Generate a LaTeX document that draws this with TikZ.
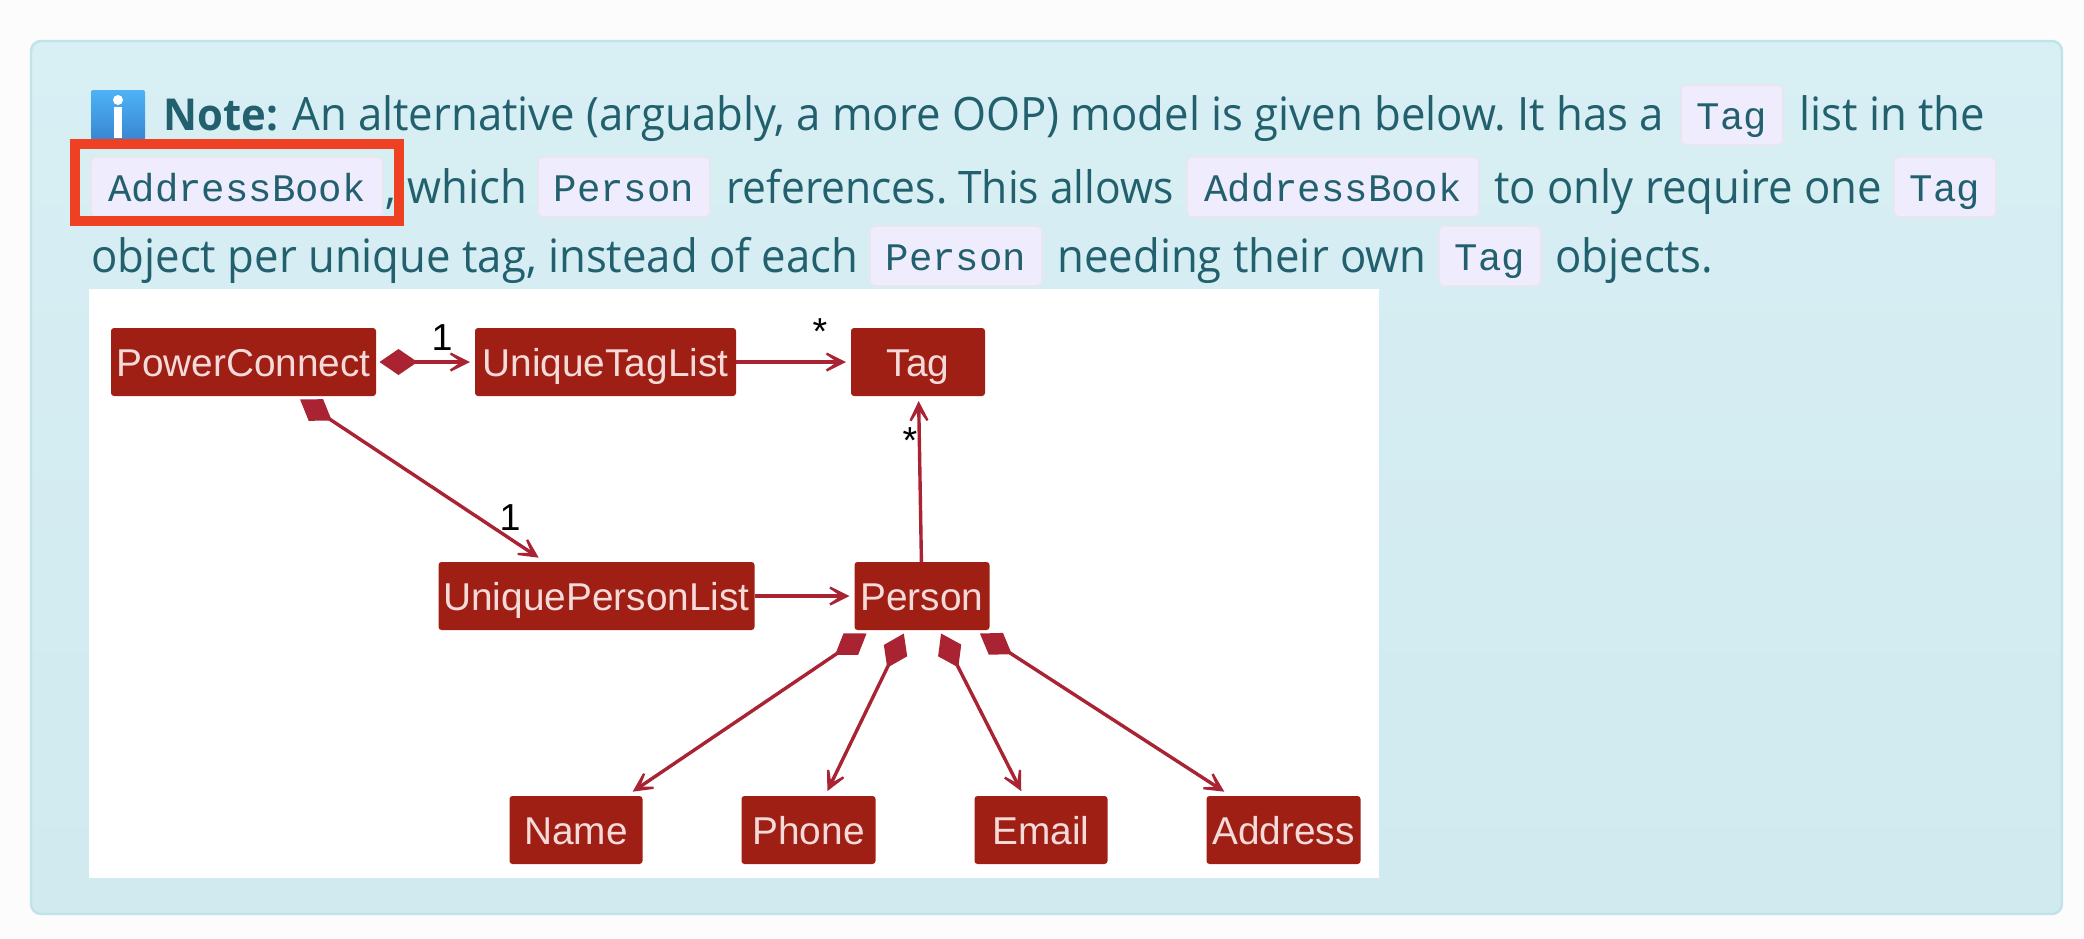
\documentclass[tikz,border=0pt]{standalone}
\usepackage{fontspec}
\setmainfont{Open Sans}[FakeStretch=0.95]
\setsansfont{Liberation Sans}
\setmonofont{Liberation Mono}
\usetikzlibrary{arrows.meta,positioning}
\frenchspacing
\definecolor{panelTop}{HTML}{D8EFF4}
\definecolor{panelBottom}{HTML}{D0EAEF}
\definecolor{panelEdge}{HTML}{BFE3E8}
\definecolor{noteText}{HTML}{22606E}
\definecolor{iconTop}{HTML}{4DB3F5}
\definecolor{iconBottom}{HTML}{3A85D3}
\definecolor{chipFill}{HTML}{EFEDFD}
\definecolor{chipEdge}{HTML}{E9E6EF}
\definecolor{markRed}{HTML}{EE4023}
\definecolor{classFill}{HTML}{9F1F14}
\definecolor{classText}{HTML}{F5DADA}
\definecolor{assocLine}{HTML}{A92333}
\tikzset{
	notetext/.style={
		anchor=base west,
		inner sep=0pt,
		text=noteText,
		font=\fontsize{23}{27}\selectfont},
	chip/.style={
		rectangle,
		rounded corners=3pt,
		fill=chipFill,
		draw=chipEdge, line width=.8pt,
		inner sep=0pt,
		minimum height=30pt,
		text=noteText,
		text height=18pt,
		text depth=4pt,
		font=\ttfamily\fontsize{19.5}{23}\selectfont},
	classbox/.style={
		rectangle,
		rounded corners=1.5pt,
		fill=classFill,
		inner sep=0pt,
		outer sep=1.75pt,
		minimum height=34pt,
		text=classText,
		text height=14.5pt,
		text depth=0pt,
		font=\sffamily\fontsize{19.4}{23}\selectfont},
	mult/.style={
		inner sep=0pt,
		font=\sffamily\fontsize{18.8}{22}\selectfont},
	uses/.style={
		draw=assocLine, line width=1.7pt,
		shorten <=-1.75pt, shorten >=.75pt,
		-{Stealth[length=17pt,width=17pt,inset=12.5pt]}},
	has/.style={
		uses,
		shorten <=0pt,
		{Diamond[length=19pt,width=13pt]}-{Stealth[length=17pt,width=17pt,inset=12.5pt]}},
}
\begin{document}
\begin{tikzpicture}[x=.5pt,y=-.5pt]
	\useasboundingbox (0,0) rectangle (2084,938);
	\fill[white!99!black] (0,0) rectangle (2084,938);
	\shade[top color=panelTop, bottom color=panelBottom, draw=panelEdge, line width=1.2pt, rounded corners=5pt]
		(31,41) rectangle (2062,914);

	% icon
	\shade[top color=iconTop, bottom color=iconBottom, rounded corners=1pt] (91,90) rectangle (145,140);
	\fill[white] (118,100) circle (5);
	\fill[white] (114,107) rectangle (122,138);

	% first line
	\node[notetext, font=\fontsize{22}{27}\selectfont\bfseries] (noteHead) at (163,130) {Note:};
	\node[notetext] (lineOneA) at (292,130) {An alternative (arguably, a more OOP) model is given below. It has a};
	\node[chip, minimum width=51pt] (tagA) at (1732,115) {Tag};
	\node[notetext] (lineOneB) at (1799,130) {list in the};

	% second line
	\node[chip, minimum width=146pt] (bookA) at (237,187) {AddressBook};
	\node[notetext] (lineTwoA) at (385,203) {, which};
	\node[chip, minimum width=86pt] (personA) at (624,187) {Person};
	\node[notetext, font=\fontsize{22.4}{27}\selectfont] (lineTwoB) at (726,203) {references. This allows};
	\node[chip, minimum width=146pt] (bookB) at (1333,187) {AddressBook};
	\node[notetext] (lineTwoC) at (1494,203) {to only require one};
	\node[chip, minimum width=51pt] (tagB) at (1945,187) {Tag};

	% third line
	\node[notetext] (lineThreeA) at (91,272) {object per unique tag, instead of each};
	\node[chip, minimum width=86pt] (personB) at (956,256) {Person};
	\node[notetext] (lineThreeB) at (1057,272) {needing their own};
	\node[chip, minimum width=51pt] (tagC) at (1490,256) {Tag};
	\node[notetext] (lineThreeC) at (1555,272) {objects.};

	\draw[markRed, line width=5pt] (75,144) rectangle (399,221);

	\fill[white] (89,289) rectangle (1379,878);

	% diagram
	\node[classbox, minimum width=132.5pt] (PowerConnect) at (243.5,362) {PowerConnect};
	\node[classbox, minimum width=130.5pt, right=46pt of PowerConnect] (UniqueTagList) {UniqueTagList};
	\node[classbox, minimum width=67pt, right=54pt of UniqueTagList] (Tag) {Tag};
	\node[classbox, minimum width=67.5pt, below=79.5pt of Tag, xshift=2pt] (Person) {Person};
	\node[classbox, minimum width=158pt, left=46.5pt of Person] (UniquePersonList) {UniquePersonList};
	\node[classbox, minimum width=67pt, below=79.5pt of Person, xshift=-56.75pt] (Phone) {Phone};
	\node[classbox, minimum width=66.5pt, left=46pt of Phone] (Name) {Name};
	\node[classbox, minimum width=66.5pt, right=46pt of Phone] (Email) {Email};
	\node[classbox, minimum width=77pt, right=46pt of Email] (Address) {Address};

	\draw[has] (PowerConnect) -- (UniqueTagList);
	\draw[uses] (UniqueTagList) -- (Tag);
	\draw[has] (PowerConnect) -- (UniquePersonList);
	\draw[uses] (UniquePersonList) -- (Person);
	\draw[uses] (Person) -- (Tag);
	\draw[has] (Person) -- (Name);
	\draw[has] (Person) -- (Phone);
	\draw[has] (Person) -- (Email);
	\draw[has] (Person) -- (Address);

	\node[mult] (oneTag) at (442,338) {1};
	\node[mult] (onePerson) at (510,518) {1};
	\node[mult] (manyTag) at (820,332) {*};
	\node[mult] (manyPerson) at (910,441) {*};
\end{tikzpicture}
\end{document}
